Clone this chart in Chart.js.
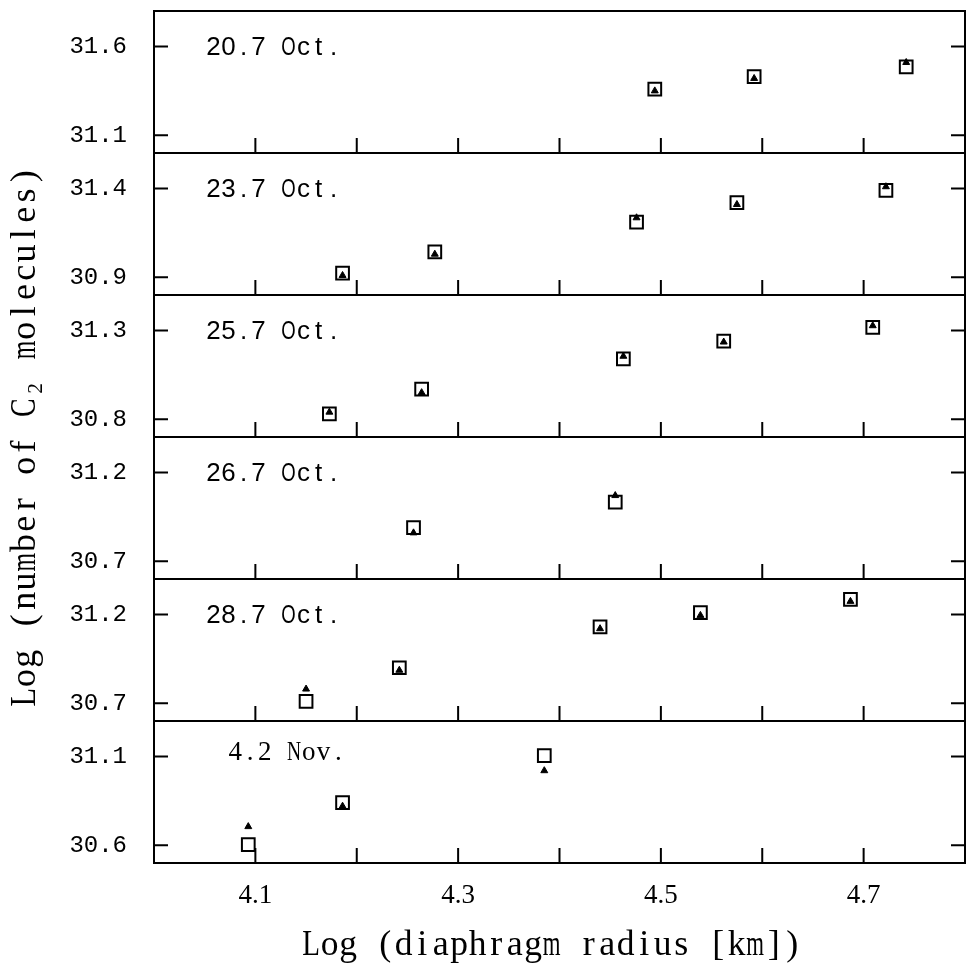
<!DOCTYPE html>
<html>
<head>
<meta charset="utf-8">
<title>C2 molecules vs diaphragm radius</title>
<script src="https://cdn.jsdelivr.net/npm/chart.js@4.4.0/dist/chart.umd.min.js"></script>
<style>
  html, body { margin: 0; padding: 0; background: #fff; overflow: hidden; }
  #wrap { width: 976px; height: 966px; }
</style>
</head>
<body>
<div id="wrap"><canvas id="myChart"></canvas></div>
<script>
// panels, top to bottom
const panelDates = ['20.7 Oct.', '23.7 Oct.', '25.7 Oct.', '26.7 Oct.', '28.7 Oct.', '4.2 Nov.'];
const panelMins = [31.0, 30.8, 30.7, 30.6, 30.6, 30.5];

// log diaphragm radius per panel
const oct20X = [4.494, 4.592, 4.742];
const oct23X = [4.186, 4.277, 4.476, 4.575, 4.722];
const oct25X = [4.173, 4.264, 4.463, 4.562, 4.709];
const oct26X = [4.256, 4.455];
const oct28X = [4.150, 4.242, 4.440, 4.539, 4.687];
const nov4X = [4.093, 4.186, 4.385];

// squares
const oct20Sq = [31.36, 31.43, 31.485];
const oct23Sq = [30.923, 31.043, 31.21, 31.32, 31.39];
const oct25Sq = [30.83, 30.97, 31.14, 31.24, 31.318];
const oct26Sq = [30.89, 31.033];
const oct28Sq = [30.71, 30.90, 31.13, 31.21, 31.285];
const nov4Sq = [30.604, 30.84, 31.105];

// triangles
const oct20Tri = [31.35, 31.42, 31.51];
const oct23Tri = [30.91, 31.03, 31.235, 31.31, 31.41];
const oct25Tri = [30.84, 30.95, 31.155, 31.235, 31.327];
const oct26Tri = [30.86, 31.07];
const oct28Tri = [30.78, 30.886, 31.12, 31.195, 31.274];
const nov4Tri = [30.705, 30.82, 31.02];

const xLabels = [4.1, 4.3, 4.5, 4.7];
const xTickMarks = [4.1, 4.2, 4.3, 4.4, 4.5, 4.6, 4.7];

const xTitle = 'Log (diaphragm radius [km])';
const yTitle = 'Log (number of C\u2082 molecules)';

const panelX = [oct20X, oct23X, oct25X, oct26X, oct28X, nov4X];
const panelSq = [oct20Sq, oct23Sq, oct25Sq, oct26Sq, oct28Sq, nov4Sq];
const panelTri = [oct20Tri, oct23Tri, oct25Tri, oct26Tri, oct28Tri, nov4Tri];
const panelIds = panelDates.map((d, i) => 'y' + i);

function pts(xs, ys) {
    return xs.map((x, i) => ({ x: x, y: ys[i] }));
}

const datasets = [];
panelIds.forEach((id, i) => {
    datasets.push({
        label: panelDates[i] + ' sq',
        data: pts(panelX[i], panelSq[i]),
        yAxisID: id,
        pointStyle: 'rect',
        pointRadius: 9,
        backgroundColor: 'rgba(0,0,0,0)',
        borderColor: '#000',
        borderWidth: 2
    });
    datasets.push({
        label: panelDates[i] + ' tri',
        data: pts(panelX[i], panelTri[i]),
        yAxisID: id,
        pointStyle: 'triangle',
        pointRadius: 4,
        backgroundColor: '#000',
        borderColor: '#000',
        borderWidth: 1
    });
});

function noPad(s) {
    s.paddingTop = 0;
    s.paddingBottom = 0;
    s.paddingLeft = 0;
    s.paddingRight = 0;
}

const scales = {
    x: {
        type: 'linear',
        min: 4.0,
        max: 4.8,
        grid: { display: false, drawTicks: false },
        border: { display: false },
        afterBuildTicks: s => { s.ticks = xLabels.map(v => ({ value: v })); },
        afterFit: s => { s.height = 103; noPad(s); },
        ticks: {
            padding: 17,
            color: '#000',
            maxRotation: 0,
            font: { family: 'Liberation Serif', size: 27 },
            callback: v => v.toFixed(1)
        }
    }
};

// stacked y axes, one per panel (layout places the last one at the top)
panelIds.slice().reverse().forEach(id => {
    const i = panelIds.indexOf(id);
    scales[id] = {
        type: 'linear',
        position: 'left',
        stack: 'panels',
        stackWeight: 1,
        min: panelMins[i],
        max: panelMins[i] + 0.8,
        grid: { display: false, drawTicks: false },
        border: { display: false },
        afterBuildTicks: s => {
            s.ticks = [{ value: panelMins[i] + 0.1 }, { value: panelMins[i] + 0.6 }];
        },
        afterFit: s => { s.width = 154; noPad(s); },
        ticks: {
            padding: 27,
            color: '#000',
            font: { family: 'Liberation Mono', size: 24 },
            callback: v => v.toFixed(1)
        }
    };
});

// typewriter-like text: one glyph per fixed cell
function drawTyped(ctx, text, x, y, adv) {
    Array.from(text).forEach((ch, i) => {
        if (ch === ' ') return;
        const w = ctx.measureText(ch).width;
        const sx = Math.min(1, adv * 0.96 / w);
        ctx.save();
        ctx.translate(x + i * adv + adv / 2, y);
        ctx.scale(sx, 1);
        ctx.fillText(ch, 0, 0);
        ctx.restore();
    });
}

// frames, inward tick marks, panel dates and axis titles
const panelFrame = {
    id: 'panelFrame',
    afterDatasetsDraw(chart) {
        const ctx = chart.ctx;
        const x = chart.scales.x;
        ctx.save();
        ctx.strokeStyle = '#000';
        ctx.fillStyle = '#000';
        ctx.lineWidth = 2;
        panelIds.forEach((id, i) => {
            const s = chart.scales[id];
            ctx.strokeRect(x.left, s.top, x.right - x.left, s.bottom - s.top);
            ctx.beginPath();
            xTickMarks.forEach(v => {
                const px = x.getPixelForValue(v);
                ctx.moveTo(px, s.bottom);
                ctx.lineTo(px, s.bottom - 15);
            });
            s.ticks.forEach(t => {
                const py = s.getPixelForValue(t.value);
                ctx.moveTo(x.left, py);
                ctx.lineTo(x.left + 14, py);
                ctx.moveTo(x.right, py);
                ctx.lineTo(x.right - 14, py);
            });
            ctx.stroke();

            const isNov = panelDates[i].indexOf('Nov') >= 0;
            ctx.font = isNov ? '27px "Liberation Serif"' : '26px "Liberation Sans"';
            ctx.textAlign = 'center';
            ctx.textBaseline = 'middle';
            const ty = s.getPixelForValue(s.ticks[1].value);
            if (isNov) {
                drawTyped(ctx, panelDates[i], x.left + 74, ty - 4, 14.7);
            } else {
                drawTyped(ctx, panelDates[i], x.left + 52, ty + 1, 15);
            }
        });

        ctx.font = '36px "Liberation Serif"';
        ctx.textAlign = 'center';
        ctx.textBaseline = 'alphabetic';
        // x title
        drawTyped(ctx, xTitle, 302, 955, 18.5);
        // y title, reading upwards
        ctx.translate(35, 707);
        ctx.rotate(-Math.PI / 2);
        drawTyped(ctx, yTitle, 0, 0, 19.3);
        ctx.restore();
    }
};

function initChart() {
    const ctx = document.getElementById('myChart').getContext('2d');
    return new Chart(ctx, {
        type: 'scatter',
        data: { datasets: datasets },
        options: {
            responsive: true,
            maintainAspectRatio: false,
            animation: false,
            layout: { padding: { top: 9, right: 2, left: 0, bottom: 0 } },
            plugins: {
                legend: { display: false },
                tooltip: { enabled: false }
            },
            scales: scales
        },
        plugins: [panelFrame]
    });
}

const chart = initChart();
</script>
</body>
</html>
